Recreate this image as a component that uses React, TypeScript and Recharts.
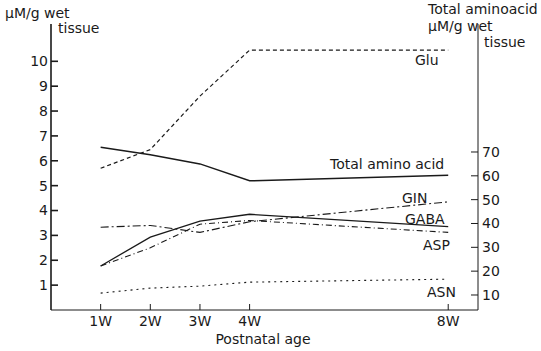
import { LineChart, Line, XAxis, YAxis } from "recharts";

const weeks = [1, 2, 3, 4, 8];
const glu = [5.7, 6.45, 8.6, 10.45, 10.45];
const totalAminoAcid = [72, 68.8, 65, 57.9, 60.2];
const gln = [3.33, 3.4, 3.12, 3.55, 4.35];
const gaba = [1.77, 2.93, 3.57, 3.85, 3.35];
const asp = [1.77, 2.5, 3.45, 3.6, 3.12];
const asn = [0.68, 0.88, 0.96, 1.12, 1.24];

const leftTicks = [1, 2, 3, 4, 5, 6, 7, 8, 9, 10];
const rightTicks = [10, 20, 30, 40, 50, 60, 70];

const data = weeks.map((w, i) => ({
  week: w,
  glu: glu[i],
  total: totalAminoAcid[i],
  gln: gln[i],
  gaba: gaba[i],
  asp: asp[i],
  asn: asn[i],
}));

const INK = "#1a1a1a";
const FONT = "'DejaVu Sans', sans-serif";
const tickStyle = { fill: INK, fontSize: 14, fontFamily: FONT };

export default function App() {
  return (
    <div style={{ position: "absolute", left: 0, top: 0, width: 541, height: 351, background: "#fff" }}>
      <LineChart
        width={541}
        height={351}
        data={data}
        margin={{ top: 24, right: 23, left: 6, bottom: 11 }}
      >
        <XAxis
          dataKey="week"
          type="number"
          domain={[0, 8.6]}
          ticks={weeks}
          interval={0}
          tickFormatter={(v) => `${v}W`}
          tickSize={-6}
          tickMargin={12}
          height={30}
          stroke={INK}
          tick={tickStyle}
        />
        <YAxis
          yAxisId="left"
          domain={[0, 11.5]}
          ticks={leftTicks}
          interval={0}
          tickSize={-7}
          tickMargin={10}
          width={45}
          stroke={INK}
          strokeWidth={1.6}
          tick={tickStyle}
        />
        <YAxis
          yAxisId="right"
          orientation="right"
          domain={[3.7, 123.7]}
          ticks={rightTicks}
          interval={0}
          tickSize={-7}
          tickMargin={11}
          width={40}
          stroke={INK}
          tick={tickStyle}
        />
        <Line yAxisId="left" dataKey="glu" stroke={INK} strokeWidth={1.2} strokeDasharray="4 3" dot={false} isAnimationActive={false} />
        <Line yAxisId="right" dataKey="total" stroke={INK} strokeWidth={1.5} dot={false} isAnimationActive={false} />
        <Line yAxisId="left" dataKey="gln" stroke={INK} strokeWidth={1.1} strokeDasharray="8 3 2 3" dot={false} isAnimationActive={false} />
        <Line yAxisId="left" dataKey="gaba" stroke={INK} strokeWidth={1.3} dot={false} isAnimationActive={false} />
        <Line yAxisId="left" dataKey="asp" stroke={INK} strokeWidth={1.1} strokeDasharray="6 3 1 3" dot={false} isAnimationActive={false} />
        <Line yAxisId="left" dataKey="asn" stroke={INK} strokeWidth={1.1} strokeDasharray="2 4" dot={false} isAnimationActive={false} />
      </LineChart>
      <svg
        width={541}
        height={351}
        style={{ position: "absolute", left: 0, top: 0, pointerEvents: "none" }}
        fontFamily={FONT}
        fontSize={14}
        fill={INK}
      >
        <text x={5} y={18}>μM/g wet</text>
        <text x={58} y={33}>tissue</text>
        <text x={428} y={14}>Total aminoacid</text>
        <text x={428} y={31}>μM/g wet</text>
        <text x={484} y={47}>tissue</text>
        <text x={415} y={65}>Glu</text>
        <text x={330} y={169}>Total amino acid</text>
        <text x={402} y={203}>GIN</text>
        <text x={405} y={224}>GABA</text>
        <text x={423} y={250}>ASP</text>
        <text x={427} y={297}>ASN</text>
        <text x={263} y={344} textAnchor="middle">Postnatal age</text>
      </svg>
    </div>
  );
}
